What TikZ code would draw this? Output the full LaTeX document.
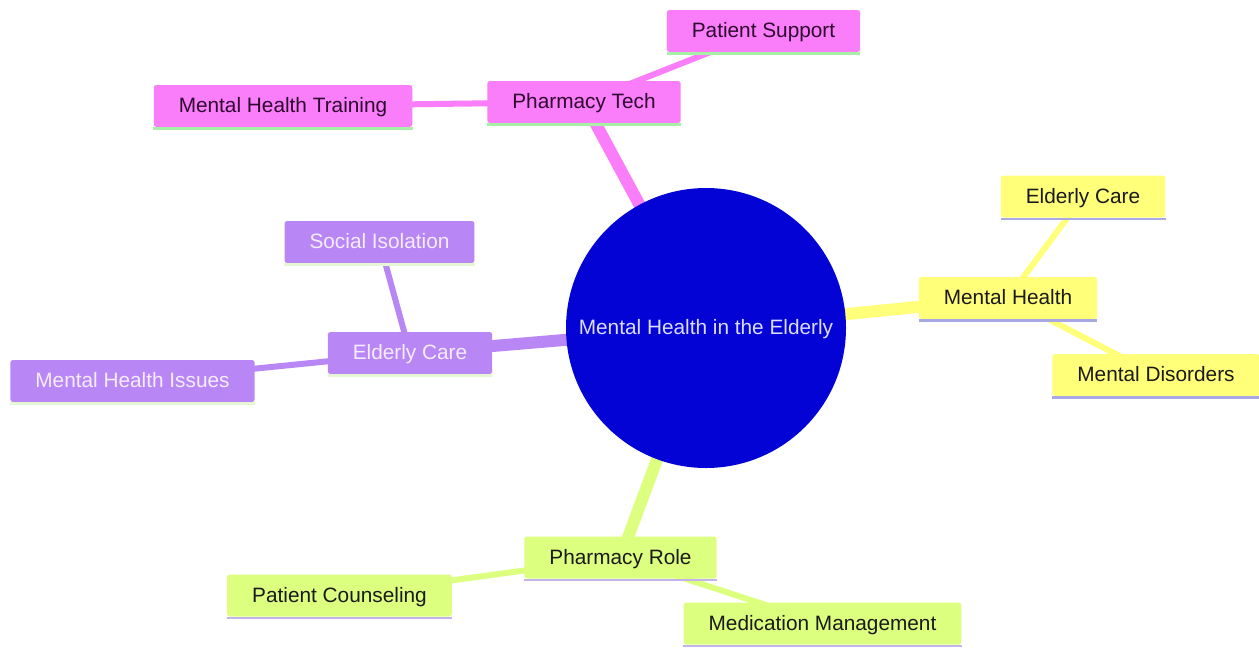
\documentclass[tikz,border=0pt]{standalone}
\usepackage{fontspec}
\setmainfont{Liberation Sans}
\usetikzlibrary{backgrounds}
\definecolor{pinkN}{HTML}{FA7DFA}
\definecolor{pinkT}{HTML}{2E0A2E}
\definecolor{pinkU}{HTML}{A8F0A8}
\definecolor{purpN}{HTML}{B987F5}
\definecolor{purpT}{HTML}{F4ECFF}
\definecolor{purpU}{HTML}{E4F6D4}
\definecolor{yelN}{HTML}{FFFF7A}
\definecolor{yelT}{HTML}{1A1A1A}
\definecolor{yelU}{HTML}{A8A8E4}
\definecolor{grnN}{HTML}{DCFF80}
\definecolor{grnT}{HTML}{1A1A1A}
\definecolor{grnU}{HTML}{C4B2EA}
\definecolor{rootN}{HTML}{0303D6}
\definecolor{rootT}{HTML}{DCDCFF}
\tikzset{
  mm/.style={rounded corners=2pt, inner xsep=18.75pt, inner ysep=0pt,
    text height=13pt, text depth=2.8pt,
    minimum height=31.5pt, font=\fontsize{15.6}{18}\selectfont, anchor=center},
  pinkbox/.style={mm, fill=pinkN, text=pinkT},
  purpbox/.style={mm, fill=purpN, text=purpT},
  yelbox/.style={mm, fill=yelN, text=yelT},
  grnbox/.style={mm, fill=grnN, text=grnT},
  rootedge/.style={line width=9pt},
  childedge/.style={line width=4.5pt},
  uline/.style={line width=2pt},
}
\begin{document}
\begin{tikzpicture}[x=0.75pt,y=-0.75pt]
\useasboundingbox (0,0) rectangle (1259,647);
% root
\node[circle, fill=rootN, text=rootT, minimum size=210pt, inner sep=0pt,
  text height=13pt, text depth=2.8pt,
  font=\fontsize{15.6}{18}\selectfont] (root) at (706,328) {Mental Health in the Elderly};
% pink
\node[pinkbox] (ptech) at (584,102) {Pharmacy Tech};
\node[pinkbox] (psupp) at (763.5,31) {Patient Support};
\node[pinkbox] (mhtrain) at (283,106) {Mental Health Training};
% yellow
\node[yelbox] (mhealth) at (1008,298) {Mental Health};
\node[yelbox] (ecareY) at (1083,196.5) {Elderly Care};
\node[yelbox] (mdis) at (1156,375) {Mental Disorders};
% purple
\node[purpbox] (ecareP) at (410,353) {Elderly Care};
\node[purpbox] (sociso) at (379.5,242) {Social Isolation};
\node[purpbox] (mhiss) at (132.5,381) {Mental Health Issues};
% green
\node[grnbox] (prole) at (620.5,557.5) {Pharmacy Role};
\node[grnbox] (pcouns) at (339.5,595.5) {Patient Counseling};
\node[grnbox] (medman) at (822.5,623.5) {Medication Management};
% underlines
\foreach \n/\c in {ptech/pinkU,psupp/pinkU,mhtrain/pinkU,
  mhealth/yelU,ecareY/yelU,mdis/yelU,
  ecareP/purpU,sociso/purpU,mhiss/purpU,
  prole/grnU,pcouns/grnU,medman/grnU}
  \draw[uline, draw=\c] ([yshift=-1pt]\n.south west) -- ([yshift=-1pt]\n.south east);
\begin{pgfonlayer}{background}
  \draw[rootedge, draw=pinkN] (root.center) -- (ptech.center);
  \draw[rootedge, draw=yelN] (root.center) -- (mhealth.center);
  \draw[rootedge, draw=purpN] (root.center) -- (ecareP.center);
  \draw[rootedge, draw=grnN] (root.center) -- (prole.center);
  \draw[childedge, draw=pinkN] (ptech.center) -- (psupp.center);
  \draw[childedge, draw=pinkN] (ptech.center) -- (mhtrain.center);
  \draw[childedge, draw=yelN] (mhealth.center) -- (ecareY.center);
  \draw[childedge, draw=yelN] (mhealth.center) -- (mdis.center);
  \draw[childedge, draw=purpN] (ecareP.center) -- (sociso.center);
  \draw[childedge, draw=purpN] (ecareP.center) -- (mhiss.center);
  \draw[childedge, draw=grnN] (prole.center) -- (pcouns.center);
  \draw[childedge, draw=grnN] (prole.center) -- (medman.center);
\end{pgfonlayer}
\end{tikzpicture}
\end{document}
